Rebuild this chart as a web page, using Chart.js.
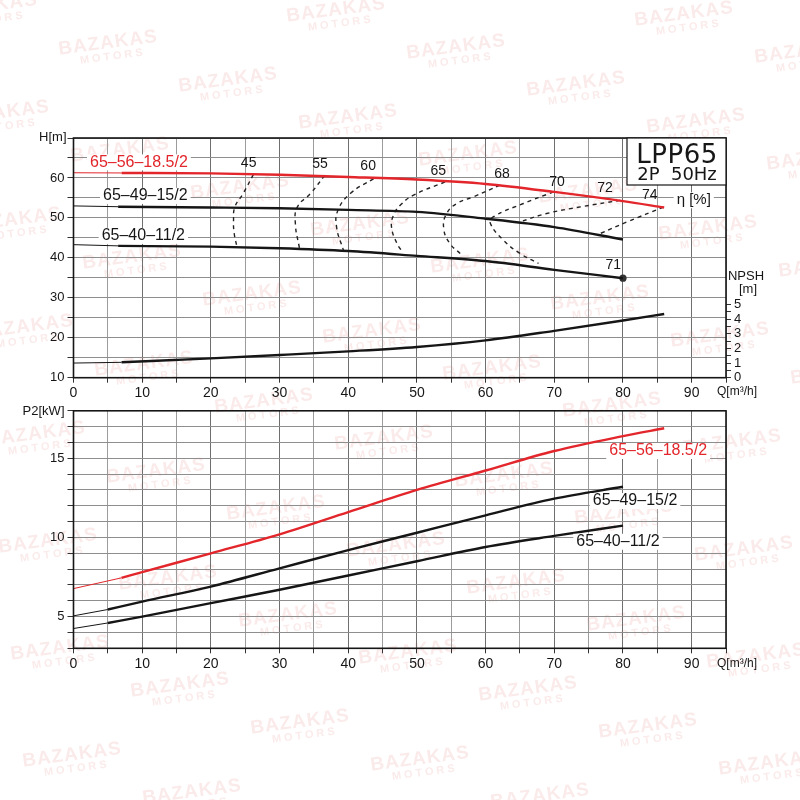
<!DOCTYPE html>
<html>
<head>
<meta charset="utf-8">
<script src="https://cdn.jsdelivr.net/npm/chart.js@4/dist/chart.umd.min.js"></script>
<style>
  body { margin: 0; background: #fff; }
  #wrap { position: relative; width: 800px; height: 800px; overflow: hidden; }
  #top { position: absolute; left: 0; top: 0; }
  #bot { position: absolute; left: 0; top: 400px; }
</style>
</head>
<body>
<div id="wrap">
  <canvas id="top" width="800" height="400"></canvas>
  <canvas id="bot" width="800" height="400"></canvas>
</div>
<script>
// ---- data (Q in m3/h) ----
const models = ["65–56–18.5/2", "65–49–15/2", "65–40–11/2"];

// H-Q curves, first point is the thin lead-in from Q=0
const qH56 = [0, 7, 20, 30, 40, 50, 60, 70, 80, 86];
const h56  = [61.3, 61.25, 61.15, 60.8, 60.25, 59.6, 58.5, 56.5, 54.2, 52.6];
const qH49 = [0, 6.5, 20, 30, 40, 50, 60, 70, 80];
const h49  = [53.0, 52.8, 52.6, 52.4, 52.0, 51.5, 49.8, 47.7, 44.6];
const qH40 = [0, 6.5, 20, 30, 40, 50, 60, 70, 80];
const h40  = [43.3, 43.0, 42.8, 42.4, 41.7, 40.5, 39.2, 37.0, 34.9];

// NPSH curve
const qNpsh = [0, 7, 20, 30, 40, 50, 60, 70, 80, 86];
const npsh  = [1.0, 1.05, 1.32, 1.55, 1.8, 2.1, 2.55, 3.2, 3.9, 4.35];

// iso-efficiency lines
const effLevels = ["45", "55", "60", "65", "68", "70", "72", "74"];
const effQ = [
  [26.2, 24.7, 23.5, 23.3, 23.4, 23.8],
  [36.6, 34.5, 32.6, 32.3, 32.9],
  [43.7, 40.3, 38.5, 38.3, 39.3],
  [54.1, 49.5, 47.6, 46.6, 46.3, 47.1, 48.0],
  [62.1, 58.2, 55.8, 54.3, 53.9, 54.8, 56.3],
  [69.9, 65.5, 61.1, 60.7, 62.6, 65.0, 67.7],
  [79.6, 73.8, 68.9, 65.0],
  [85.9, 80.6, 76.7]
];
const effH = [
  [60.9, 56.1, 52.75, 49.4, 46.1, 42.75],
  [60.7, 56.1, 52.75, 48.6, 42.35],
  [59.85, 56.1, 51.9, 47.75, 41.9],
  [59.0, 55.7, 53.2, 50.7, 47.75, 43.6, 41.25],
  [58.2, 55.25, 53.6, 51.0, 47.35, 43.6, 41.1],
  [56.5, 53.6, 50.25, 48.6, 44.4, 41.1, 38.6],
  [54.4, 52.75, 51.1, 49.0],
  [52.7, 49.0, 46.1]
];
// where the efficiency numbers sit (Q, H)
const effLabelQ = [25.5, 35.9, 42.9, 53.1, 62.4, 70.4, 77.4, 83.9];
const effLabelH = [63.75, 63.4, 62.9, 61.75, 60.9, 59.0, 57.35, 55.7];
const endEff = "71";

// P2-Q curves, first point is the thin lead-in
const qP56 = [0, 7, 10, 20, 30, 40, 50, 60, 70, 80, 86];
const p56  = [6.77, 7.45, 7.81, 9.0, 10.2, 11.6, 13.0, 14.23, 15.46, 16.4, 16.9];
const qP49 = [0, 5, 10, 20, 30, 40, 50, 60, 70, 80];
const p49  = [5.05, 5.45, 5.95, 6.9, 8.05, 9.2, 10.3, 11.4, 12.45, 13.2];
const qP40 = [0, 5, 10, 20, 30, 40, 50, 60, 70, 80];
const p40  = [4.25, 4.6, 5.0, 5.85, 6.7, 7.6, 8.5, 9.4, 10.1, 10.75];

const npshTicks = [0, 0.5, 1, 1.5, 2, 2.5, 3, 3.5, 4, 4.5, 5];

const RED = "#e3262b";
const INK = "#161616";
const FONT = '"Liberation Sans", Arial, sans-serif';

function pts(qs, vs) { return qs.map((q, i) => ({ x: q, y: vs[i] })); }
function multipleOf(v, m) { return Math.abs(v - Math.round(v / m) * m) < 1e-6; }

function curve(qs, vs, color, axis) {
  // thin lead-in + thick curve
  return [
    { data: pts(qs.slice(0, 2), vs.slice(0, 2)), borderColor: color, borderWidth: 1, yAxisID: axis },
    { data: pts(qs.slice(1), vs.slice(1)), borderColor: color, borderWidth: 2.4,
      cubicInterpolationMode: "monotone", yAxisID: axis }
  ];
}

// watermark grid of the source image
function marks(ctx, offY) {
  ctx.save();
  ctx.fillStyle = "rgba(220,50,50,0.1)";
  ctx.textAlign = "center";
  ctx.textBaseline = "middle";
  for (let i = -8; i < 12; i++) {
    for (let j = -4; j < 10; j++) {
      const cx = 120 + i * 120 + j * 12;
      const cy = 150 + i * 37 + j * 107 - offY;
      if (cx < -80 || cx > 880 || cy < -40 || cy > 440) continue;
      ctx.save();
      ctx.translate(cx, cy);
      ctx.rotate(-0.13);
      ctx.font = "bold 19px " + FONT;
      ctx.letterSpacing = "1px";
      ctx.fillText("BAZAKAS", 0, 0);
      ctx.font = "bold 11px " + FONT;
      ctx.letterSpacing = "3px";
      ctx.fillText("MOTORS", 3, 14);
      ctx.restore();
    }
  }
  ctx.restore();
}

function tag(ctx, text, x, y, opt) {
  ctx.save();
  ctx.font = opt.font;
  ctx.textBaseline = "middle";
  ctx.textAlign = opt.align || "left";
  if (opt.bg) {
    const w = ctx.measureText(text).width;
    const x0 = opt.align === "center" ? x - w / 2 : x;
    ctx.fillStyle = "#fff";
    ctx.fillRect(x0 - 3, y - 8, w + 6, 16);
  }
  ctx.fillStyle = opt.color || INK;
  ctx.fillText(text, x, y);
  ctx.restore();
}

function gridColor(c) { return c.tick && multipleOf(c.tick.value, 10) ? "#6f6f6f" : "#9c9c9c"; }

function xScale(h) {
  return {
    type: "linear", min: 0, max: 95,
    afterFit: s => { s.height = h; },
    border: { display: false },
    grid: { color: gridColor, lineWidth: 1, tickLength: 5, tickColor: "#333" },
    ticks: {
      stepSize: 5, autoSkip: false, maxRotation: 0, padding: 2, color: INK,
      font: { family: FONT, size: 14 },
      callback: v => (multipleOf(v, 10) && v <= 90 ? Math.round(v) : "")
    }
  };
}

function frame(chart) {
  const { ctx, chartArea: a } = chart;
  ctx.save();
  ctx.strokeStyle = INK;
  ctx.lineWidth = 1.6;
  ctx.strokeRect(a.left, a.top, a.right - a.left, a.bottom - a.top);
  ctx.restore();
}

// ---------------- head / NPSH chart ----------------
const topSets = [
  ...curve(qH56, h56, RED, "y"),
  ...curve(qH49, h49, INK, "y"),
  ...curve(qH40, h40, INK, "y"),
  ...curve(qNpsh, npsh, INK, "yN"),
  ...effQ.map((qs, i) => ({
    data: pts(qs, effH[i]), borderColor: "#222", borderWidth: 1.4,
    borderDash: [4, 4], tension: 0.45, yAxisID: "y"
  })),
  { data: [{ x: qH40[qH40.length - 1], y: h40[h40.length - 1] }], showLine: false,
    pointRadius: 3.6, pointBackgroundColor: "#333", pointBorderWidth: 0, yAxisID: "y" }
];
topSets.forEach(d => { if (d.showLine === undefined) d.showLine = true; if (d.pointRadius === undefined) d.pointRadius = 0; });

const topDeco = {
  id: "topDeco",
  beforeDraw: c => marks(c.ctx, 0),
  afterDatasetsDraw(chart) {
    const { ctx, chartArea: a, scales: { x, y } } = chart;
    frame(chart);
    const big = "16px " + FONT;
    tag(ctx, models[0], x.getPixelForValue(2.4), y.getPixelForValue(63.9), { font: big, color: RED, bg: true });
    tag(ctx, models[1], x.getPixelForValue(4.3), y.getPixelForValue(55.5), { font: big, bg: true });
    tag(ctx, models[2], x.getPixelForValue(4.1), y.getPixelForValue(45.5), { font: big, bg: true });
    effLevels.forEach((t, i) => {
      tag(ctx, t, x.getPixelForValue(effLabelQ[i]), y.getPixelForValue(effLabelH[i]),
        { font: "14px " + FONT, align: "center" });
    });
    tag(ctx, endEff, x.getPixelForValue(78.6), y.getPixelForValue(38.2), { font: "14px " + FONT, align: "center" });
    tag(ctx, "η [%]", x.getPixelForValue(90.3), y.getPixelForValue(54.4), { font: "15px " + FONT, align: "center", bg: true });

    // type box
    ctx.save();
    ctx.fillStyle = "#fff";
    ctx.fillRect(a.right - 99, a.top, 99, 47);
    ctx.strokeStyle = INK;
    ctx.lineWidth = 1.2;
    ctx.strokeRect(a.right - 99, a.top, 99, 47);
    ctx.fillStyle = INK;
    ctx.textAlign = "center";
    ctx.textBaseline = "alphabetic";
    ctx.fontStretch = "condensed";
    ctx.font = '26px "DejaVu Sans", sans-serif';
    ctx.letterSpacing = "0.5px";
    ctx.fillText("LPP65", a.right - 49, a.top + 25);
    ctx.font = '18px "DejaVu Sans", sans-serif';
    ctx.letterSpacing = "0px";
    ctx.fillText("2P  50Hz", a.right - 49, a.top + 42);
    ctx.restore();

    tag(ctx, "H[m]", a.left - 7, a.top - 1, { font: "13px " + FONT, align: "right" });
    tag(ctx, "NPSH", a.right + 20, y.getPixelForValue(35.3), { font: "13px " + FONT, align: "center" });
    tag(ctx, "[m]", a.right + 22, y.getPixelForValue(32.0), { font: "13px " + FONT, align: "center" });
    tag(ctx, "Q[m³/h]", a.right - 9, a.bottom + 14, { font: "12px " + FONT });
  }
};

new Chart(document.getElementById("top"), {
  type: "scatter",
  data: { datasets: topSets },
  options: {
    responsive: false,
    animation: false,
    layout: { padding: { top: 138, left: 0, right: 0, bottom: 0 } },
    plugins: { legend: { display: false }, tooltip: { enabled: false } },
    scales: {
      x: xScale(22.3),
      y: {
        type: "linear", position: "left", min: 10, max: 70,
        afterFit: s => { s.width = 73.5; },
        border: { display: false },
        grid: { color: "#8e8e8e", tickLength: 6, tickColor: "#333" },
        ticks: { stepSize: 5, autoSkip: false, padding: 3, color: INK, font: { family: FONT, size: 13 },
          callback: v => (multipleOf(v, 10) && v < 70 ? Math.round(v) : "") }
      },
      yN: {
        type: "linear", position: "right", min: 0, max: 16.36,
        afterFit: s => { s.width = 74; },
        afterBuildTicks: s => { s.ticks = npshTicks.map(v => ({ value: v })); },
        border: { display: false },
        grid: { drawOnChartArea: false, tickLength: 5, tickColor: "#333" },
        ticks: { autoSkip: false, padding: 3, color: INK, font: { family: FONT, size: 13 },
          callback: v => (multipleOf(v, 1) ? Math.round(v) : "") }
      }
    }
  },
  plugins: [topDeco]
});

// ---------------- power chart ----------------
const botSets = [
  ...curve(qP56, p56, RED, "y"),
  ...curve(qP49, p49, INK, "y"),
  ...curve(qP40, p40, INK, "y")
];
botSets.forEach(d => { d.showLine = true; d.pointRadius = 0; });

const botDeco = {
  id: "botDeco",
  beforeDraw: c => marks(c.ctx, 400),
  afterDatasetsDraw(chart) {
    const { ctx, chartArea: a, scales: { x, y } } = chart;
    frame(chart);
    const big = "16px " + FONT;
    tag(ctx, models[0], x.getPixelForValue(78.0), y.getPixelForValue(15.46), { font: big, color: RED, bg: true });
    tag(ctx, models[1], x.getPixelForValue(75.6), y.getPixelForValue(12.3), { font: big, bg: true });
    tag(ctx, models[2], x.getPixelForValue(73.2), y.getPixelForValue(9.73), { font: big, bg: true });
    tag(ctx, "P2[kW]", a.left - 9, a.top + 1, { font: "13px " + FONT, align: "right" });
    tag(ctx, "Q[m³/h]", a.right - 9, a.bottom + 15, { font: "12px " + FONT });
  }
};

new Chart(document.getElementById("bot"), {
  type: "scatter",
  data: { datasets: botSets },
  options: {
    responsive: false,
    animation: false,
    layout: { padding: { top: 9, left: 0, right: 74, bottom: 0 } },
    plugins: { legend: { display: false }, tooltip: { enabled: false } },
    scales: {
      x: xScale(151.7),
      y: {
        type: "linear", position: "left", min: 3, max: 18,
        afterFit: s => { s.width = 73.5; },
        border: { display: false },
        grid: { color: "#8e8e8e", tickLength: 6, tickColor: "#333" },
        ticks: { stepSize: 1, autoSkip: false, padding: 3, color: INK, font: { family: FONT, size: 13 },
          callback: v => (multipleOf(v, 5) ? Math.round(v) : "") }
      }
    }
  },
  plugins: [botDeco]
});
</script>
</body>
</html>
